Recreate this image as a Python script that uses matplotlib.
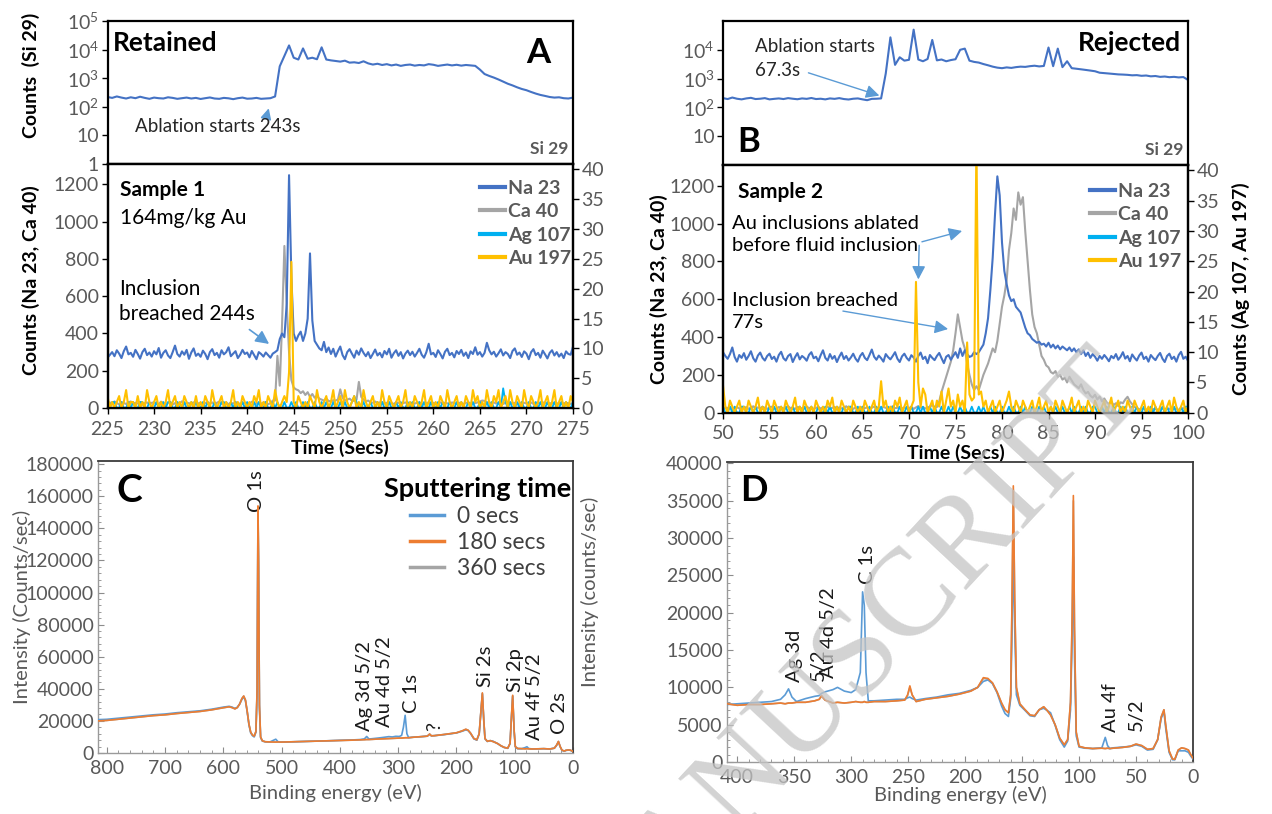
import numpy as np
import matplotlib
matplotlib.use("Agg")
import matplotlib.pyplot as plt
from matplotlib.lines import Line2D
from matplotlib.ticker import MultipleLocator, AutoMinorLocator, NullLocator

plt.rcParams['font.family'] = ['Lato', 'DejaVu Sans']
plt.rcParams['mathtext.fontset'] = 'custom'
plt.rcParams['mathtext.rm'] = 'Lato'
plt.rcParams['mathtext.it'] = 'Lato:italic'
plt.rcParams['mathtext.bf'] = 'Lato:bold'

# ---------------- LA-ICP-MS traces, sample 1 (retained) ----------------
t_si_a = np.linspace(225, 275, 101)
si29_a = [220, 205, 230, 210, 195, 215, 200, 225, 205, 190, 210, 200, 195, 215, 205, 190, 200, 210, 195, 205,
          188, 200, 212, 195, 190, 205, 198, 185, 200, 210, 192, 195, 205, 190, 195, 200,
          230, 2600, 6000, 14000, 5200, 4500, 11000, 4800, 5200, 4600, 12000, 4500, 4200, 4000, 3800, 4100, 3500, 3600, 3400, 3900,
          3300, 3000, 3200, 2900, 3100, 2800, 3000, 2700, 2900, 3000, 2750, 2900, 2800, 3100, 2950, 2700, 2850, 3000, 2800, 2950,
          2750, 2900, 2800, 2700, 2000, 1400, 1200, 1050, 900, 760,
          640, 560, 480, 420, 380, 330, 290, 260, 240, 220, 210, 215, 200, 195, 210]

t_a = np.linspace(225, 275, 201)
na23_a = [270, 285, 300, 278, 310, 292, 268, 305, 330, 288, 296, 275, 312, 290, 265, 300, 318, 284, 298, 276,
          305, 288, 322, 270, 296, 310, 282, 268, 300, 335, 290, 276, 304, 286, 312, 264, 298, 320, 280, 292,
          275, 308, 290, 262, 300, 316, 284, 296, 270, 310, 288, 300, 326, 278, 292, 305, 268, 286, 312, 290,
          298, 272, 306, 284, 262, 300, 290, 276, 298, 284, 270, 292,
          300, 310, 370, 400, 380, 560, 1250, 700, 400, 360, 390, 410, 360, 400, 480, 830, 470, 360, 340, 320,
          310, 355, 300, 325, 290, 318, 276, 305, 330, 284, 262, 300, 316, 292, 270, 308, 286, 320, 296, 278,
          300, 268, 290, 314, 282, 296, 272, 306, 288, 318, 270, 294, 310, 280, 300, 266, 292, 308, 284, 302,
          276, 296, 318, 286, 270, 300, 345, 288, 296, 274, 310, 290, 266, 302, 318, 284, 296, 272, 306, 290,
          312, 280, 298, 268, 304, 290, 326, 286, 300, 276, 296, 350, 310, 288, 302, 276, 294, 315, 282, 300,
          290, 268, 306, 320, 286, 298, 274, 304, 292, 262, 300, 316, 284, 296, 270, 308, 288, 266, 296, 310,
          282, 300, 276, 292, 268, 304, 290, 286, 330]
ca40_a = [25, 30, 20, 35, 28, 18, 32, 26, 22, 30, 35, 20, 28, 24, 32, 18, 26, 30, 22, 28,
          30, 24, 20, 34, 26, 22, 28, 32, 18, 26, 30, 24, 36, 20, 28, 26, 22, 30, 34, 24,
          28, 20, 26, 32, 24, 30, 18, 28, 34, 22, 26, 30, 20, 28, 24, 32, 26, 22, 30, 24,
          28, 20, 34, 26, 22, 30, 24, 28, 32, 20, 26, 40,
          40, 280, 120, 450, 870, 560, 300, 150, 110, 100, 95, 80, 90, 70, 85, 60, 75, 55, 65, 50,
          45, 40, 50, 38, 35, 42, 40, 45, 100, 55, 40, 45, 50, 40, 38, 45, 140, 60, 45, 35,
          40, 30, 28, 35, 25, 30, 32, 24, 28, 30, 26, 22, 30, 28, 24, 26, 30, 22, 28, 25,
          24, 28, 30, 22, 26, 25, 30, 24, 28, 22, 26, 30, 24, 28, 25, 22, 30, 26, 24, 28,
          26, 22, 28, 30, 24, 28, 26, 30, 35, 40, 38, 30, 28, 26, 30, 24, 28, 26, 22, 28,
          25, 30, 24, 28, 26, 22, 30, 28, 24, 26, 30, 22, 28, 26, 24, 30, 28, 22, 26, 24,
          28, 26, 22, 30, 24, 28, 26, 22, 25]
ag107_a = [1, 0, 1, 1, 0, 0, 1, 0, 0, 1, 0, 1, 0, 0, 1, 1, 0, 0, 1, 0,
           0, 1, 0, 0, 1, 0, 1, 1, 0, 0, 1, 0, 0, 1, 0, 0, 1, 0, 1, 0,
           0, 1, 0, 1, 0, 0, 1, 0, 0, 1, 1, 0, 0, 1, 0, 1, 0, 0, 1, 0,
           1, 0, 0, 1, 0, 1, 0, 0, 1, 0, 0, 1,
           0, 1, 0, 0, 1, 0, 0, 1, 0, 1, 0, 0, 1, 0, 1, 0, 0, 1, 0, 0,
           1, 0, 1, 0, 0, 1, 0, 0, 1, 0, 1, 0, 0, 1, 2, 1, 0, 0, 1, 0,
           0, 1, 0, 0, 1, 0, 1, 0, 0, 1, 0, 0, 1, 0, 1, 0, 0, 1, 0, 1,
           0, 0, 1, 0, 1, 0, 0, 1, 0, 0, 1, 0, 1, 0, 0, 1, 0, 0, 1, 0,
           1, 0, 0, 1, 0, 1, 0, 0, 1, 0, 0, 1, 0, 1, 0, 0, 1, 0, 3.3, 1,
           0, 1, 0, 0, 1, 0, 1, 0, 0, 1, 0, 0, 1, 0, 1, 0, 0, 1, 0, 0,
           1, 0, 0, 1, 0, 1, 0, 0, 1]
au197_a = [2, 0, 1, 0, 1, 2, 0, 1, 3, 0, 1, 1, 0, 2, 0, 1, 0, 3, 1, 0,
           1, 2, 0, 1, 0, 1, 3, 0, 1, 2, 0, 1, 0, 2, 1, 0, 1, 0, 2, 0,
           1, 0, 2, 1, 0, 3, 1, 0, 1, 2, 0, 1, 0, 1, 3, 0, 1, 0, 2, 1,
           0, 1, 0, 2, 1, 3, 0, 1, 0, 2, 1, 0,
           3, 1, 0, 1, 2, 1, 6, 24.5, 1, 0, 2, 1, 0, 1, 0, 2, 1, 0, 3, 1,
           0, 1, 2, 0, 1, 3, 0, 1, 2, 0, 3, 1, 0, 1, 2, 0, 1, 0, 3, 1,
           0, 1, 2, 0, 1, 0, 3, 1, 0, 2, 1, 0, 1, 2, 0, 1, 3, 0, 1, 0,
           2, 1, 0, 1, 3, 0, 1, 2, 0, 1, 0, 2, 1, 0, 3, 1, 0, 1, 2, 0,
           1, 0, 2, 1, 0, 3, 1, 2, 0, 1, 0, 3, 1, 0, 2, 1, 3, 0, 1, 2,
           0, 3, 1, 0, 2, 1, 0, 3, 1, 0, 2, 1, 0, 1, 3, 0, 1, 2, 0, 1,
           3, 0, 1, 2, 0, 1, 0, 2, 1]

# ---------------- LA-ICP-MS traces, sample 2 (rejected) ----------------
t_si_b = np.linspace(50, 100, 101)
si29_b = [210, 195, 220, 200, 190, 205, 215, 195, 200, 210, 190, 198, 205, 195, 210, 200, 192, 205, 198, 212,
          195, 200, 190, 205, 198, 210, 195, 188, 200, 205, 190, 178, 198, 200, 205,
          1500, 27000, 3000, 5500, 4200, 4500, 50000, 4600, 4000, 4800, 22000, 4300, 4600, 4000, 4400, 4700, 10000, 11000, 4200, 3800,
          3600, 3200, 2900, 2600, 2400, 2300, 2450, 2350, 2500, 2600, 2550, 2700, 2800, 2650, 2750, 12000, 2700, 11000, 2500, 4000,
          2300, 2200, 2100, 2000, 1900, 1800, 1600, 1550, 1500, 1450, 1400, 1380, 1350, 1300, 1320, 1250, 1280, 1200, 1230, 1150,
          1180, 1120, 1150, 1100, 1130, 900]

t_b = np.linspace(50, 100, 201)
na23_b = [320, 300, 285, 310, 345, 295, 270, 305, 290, 315, 280, 300, 325, 288, 270, 302, 318, 290, 276, 300,
          312, 284, 296, 270, 305, 322, 288, 276, 300, 310, 268, 294, 315, 282, 300, 290, 275, 306, 320, 288,
          296, 272, 304, 330, 290, 276, 310, 285, 300, 268, 296, 318, 284, 300, 276, 292, 312, 286, 270, 300,
          316, 290, 278, 305, 334, 296, 280, 302, 288, 270, 310, 294, 282, 300, 320, 286, 268, 298, 312, 290,
          276, 304, 292, 270, 300, 318, 284, 296, 262, 305, 290, 278, 300, 316, 288, 262, 296, 305, 280, 300,
          320, 290, 340, 300, 330, 310, 295, 300, 320, 310,
          320, 340, 360, 420, 500, 650, 820, 1050, 1250, 1150, 900, 750, 680, 620, 590, 600, 560, 545, 530, 490,
          450, 420, 410, 390, 380, 370, 375, 360, 365, 350, 370, 345, 360, 340, 355, 335, 350, 340, 330, 345,
          325, 340, 320, 335, 310, 330, 300, 318, 290, 310, 296, 275, 300, 285, 305, 290, 272, 300, 288, 310,
          280, 296, 320, 286, 300, 272, 308, 290, 276, 302, 318, 284, 296, 270, 305, 290, 278, 300, 316, 286,
          268, 300, 312, 284, 296, 270, 305, 322, 285, 296, 275]
ca40_b = [20, 28, 24, 32, 18, 26, 30, 22, 28, 24, 30, 20, 26, 34, 22, 28, 24, 30, 26, 20,
          28, 32, 24, 20, 30, 26, 22, 28, 34, 24, 26, 20, 30, 28, 22, 26, 32, 24, 28, 20,
          26, 30, 22, 28, 24, 32, 20, 26, 30, 24, 28, 22, 26, 34, 24, 30, 20, 28, 26, 22,
          30, 24, 28, 20, 26, 32, 22, 28, 24, 30, 26, 20, 28, 34, 24, 26, 30, 22, 28, 24,
          25, 30, 20, 28, 35, 26, 30, 22, 28, 32, 40, 30,
          30, 60, 110, 150, 190, 230, 270, 330, 420, 520, 450, 380, 340, 260, 200, 150, 120, 140, 120, 160,
          200, 230, 260, 300, 340, 320, 380, 470, 560, 620, 700, 860, 950, 1080, 1020, 1165, 1100, 1140, 960, 805,
          650, 520, 453, 420, 360, 300, 280, 250, 240, 215, 207, 220, 190, 200, 175, 185, 160, 190, 170, 150,
          140, 130, 150, 120, 102, 110, 90, 80, 95, 70, 85, 60, 75, 55, 45, 60, 40, 50, 35, 55,
          50, 70, 84, 60, 45, 30, 25, 18, 20, 22, 15, 20, 25, 18, 22, 15, 20, 24, 18, 22,
          20, 25, 18, 22, 15, 20, 24, 18, 22]
ag107_b = [1, 0, 0, 1, 0, 1, 0, 0, 1, 1, 0, 0, 1, 0, 1, 0, 0, 1, 0, 0,
           1, 0, 1, 0, 0, 1, 0, 1, 0, 0, 1, 0, 0, 1, 0, 1, 0, 0, 1, 0,
           0, 1, 0, 0, 1, 0, 1, 0, 0, 1, 0, 0, 1, 0, 1, 1, 0, 0, 1, 0,
           1, 0, 0, 1, 0, 0, 1, 0, 1, 0, 0, 1, 0, 1, 0, 0, 1, 0, 0, 1,
           0, 1, 0, 0, 1, 0, 1, 0, 0, 1, 0, 1, 0, 0, 1, 0, 0, 1, 0, 1,
           0, 0, 1, 0, 1, 0, 0, 1, 0, 0, 1, 0, 1, 0, 0, 1, 0, 1, 0, 0,
           1, 0, 0, 1, 0, 1, 0, 0, 1, 0, 1, 0, 0, 1, 0, 0, 1, 0, 1, 0,
           0, 1, 0, 1, 0, 0, 1, 0, 0, 1, 0, 1, 0, 0, 1, 0, 1, 0, 0, 1,
           1, 0, 0, 1, 0, 1, 0, 0, 1, 0, 0, 1, 0, 1, 0, 0, 1, 0, 1, 0,
           0, 1, 0, 0, 1, 0, 1, 0, 0, 1, 0, 1, 0, 0, 1, 0, 0, 1, 0, 1,
           1]
au197_b = [4.5, 1, 0, 2, 1, 0, 1, 2, 0, 1, 0, 2, 1, 0, 1, 2.5, 0, 1, 0, 2,
           1, 0, 2, 1, 0, 1, 0, 2, 1, 0, 1, 2.5, 0, 1, 0, 2, 1, 0, 1, 0,
           2, 1, 0, 1, 0, 2, 1, 2.5, 0, 1, 0, 2, 1, 0, 1, 0, 2, 1, 0, 1,
           0, 2, 1, 0, 1, 2, 0, 1, 5.2, 1, 2, 0, 1, 0, 2, 1, 2.5, 0, 1, 2,
           0, 1, 2, 21.6, 5, 1, 4, 3, 0, 1, 2, 0, 2, 1, 3.5, 0, 2, 4, 1, 2,
           0, 3, 1, 2, 0, 11.6, 3, 2, 2.5, 45, 3, 3.5, 1, 2, 0, 1, 2, 0, 1, 2,
           0, 1, 2, 3.5, 1, 0, 2, 1, 0, 2, 1, 0, 1, 2, 0, 1, 2.5, 0, 1, 2,
           0, 1, 0, 2, 1, 0, 2, 1, 0, 1, 2.5, 0, 1, 2, 0, 1, 0, 2, 1, 0,
           2, 1, 0, 1, 2, 0, 1, 2.5, 0, 1, 2, 0, 1, 0, 2, 1, 0, 2, 1, 0,
           1, 2, 0, 1, 0, 2, 1, 0, 1, 2, 0, 1, 2, 0, 2.5, 1, 0, 1, 2, 0, 1]

# ---------------- XPS survey, sample 1 ----------------
be_c = [815, 800, 760, 720, 700, 680, 640, 620, 600, 590,
        585, 580, 576, 572, 568, 565, 562, 559, 556, 553,
        550, 547, 544, 542, 540.5, 539.5, 538, 536, 533, 528,
        520, 510, 506, 502, 490, 460, 430, 400, 380, 365,
        358, 354, 350, 345, 335, 328, 322, 316, 310, 304,
        298, 294, 291, 288, 285, 282, 275, 260, 250, 246,
        243, 238, 220, 200, 190, 184, 180, 176, 170, 165,
        161, 158, 155.5, 153, 151, 147, 142, 137, 133, 129,
        124, 118, 112, 108, 106, 103.5, 101, 99, 95, 88,
        82, 79, 76, 70, 60, 50, 40, 32, 28, 25,
        22, 19, 15, 12, 8, 5, 2, 0]
c_0s = [20800, 21000, 22400, 23800, 24300, 25100, 26300, 27300, 28600, 29100,
        28600, 27800, 28500, 30500, 33500, 35000, 32500, 25500, 17500, 12500,
        10800, 10000, 13000, 38000, 150000, 115000, 28000, 9600, 7400, 7000,
        6900, 8600, 7000, 6800, 6900, 7200, 7500, 7900, 8100, 8400,
        8800, 10300, 8700, 8900, 9300, 9600, 9900, 10200, 10000, 10400,
        10300, 11000, 16000, 23500, 12000, 9600, 9800, 10200, 10500, 11600,
        10700, 10800, 11500, 12500, 13600, 14400, 14000, 12300, 8800, 8000,
        11800, 25500, 37000, 19500, 8800, 7200, 7700, 7300, 6500, 5800,
        4500, 3400, 2900, 5800, 19500, 35500, 13500, 3900, 2700, 2700,
        3400, 3900, 2800, 2500, 2600, 2700, 2500, 3000, 4800, 7000,
        3900, 1700, 1100, 1600, 1800, 1700, 1300, 800]
c_180s = [20000, 20300, 21800, 23300, 23800, 24600, 25900, 26900, 28200, 28800,
          28300, 27500, 28300, 30500, 34000, 35500, 33000, 26000, 18000, 13000,
          11200, 10500, 13500, 40000, 154000, 120000, 30000, 10000, 7600, 7000,
          6900, 6800, 6900, 6800, 6900, 7200, 7500, 7800, 8000, 8200,
          8300, 8400, 8400, 8500, 8700, 8800, 8900, 9000, 9100, 9200,
          9300, 9300, 9400, 9500, 9500, 9500, 9800, 10200, 10500, 11800,
          10700, 10800, 11600, 12600, 13800, 14800, 14200, 12500, 9000, 8200,
          12000, 26000, 37500, 20000, 9000, 7300, 7700, 7100, 6500, 5800,
          4600, 3500, 3000, 6000, 20000, 36000, 14000, 4000, 2800, 2700,
          2600, 2700, 2600, 2500, 2600, 2700, 2500, 3000, 5000, 7200,
          4000, 1800, 1200, 1700, 1900, 1800, 1400, 900]
c_360s = [20100, 20300, 21800, 23300, 23800, 24600, 25900, 26900, 28200, 28800,
          28300, 27500, 28300, 30500, 34000, 35500, 33000, 26000, 18000, 13000,
          11200, 10500, 13500, 40000, 153000, 120000, 30000, 10000, 7600, 7000,
          6900, 6800, 6900, 6800, 6900, 7200, 7500, 7800, 8000, 8200,
          8300, 8400, 8400, 8500, 8700, 8800, 8900, 9000, 9100, 9200,
          9300, 9300, 9400, 9500, 9500, 9500, 9800, 10200, 10500, 11800,
          10700, 10800, 11600, 12600, 13800, 14800, 14200, 12500, 9000, 8200,
          12000, 26000, 37000, 20000, 9000, 7300, 7700, 7100, 6500, 5800,
          4600, 3500, 3000, 6000, 20000, 35500, 14000, 4000, 2800, 2700,
          2600, 2700, 2600, 2500, 2600, 2700, 2500, 3000, 5000, 7200,
          4000, 1800, 1200, 1700, 1900, 1800, 1400, 900]

# ---------------- XPS survey, sample 2 ----------------
be_d = [409, 400, 390, 380, 370, 362, 358, 355, 352, 348,
        340, 332, 328, 326, 323, 316, 312, 306, 300, 296,
        292, 290, 288.5, 287, 285, 280, 270, 260, 253, 250.5,
        248.5, 246.5, 243, 235, 225, 215, 205, 195, 189, 184,
        180, 176, 172, 168, 165, 162, 160, 159, 157.7, 156.5,
        155, 152, 148, 143, 139, 135, 131, 128, 125, 121,
        117, 113, 110, 107.5, 106, 105, 104, 102.5, 100, 95,
        88, 80, 77, 75, 73, 70, 62, 55, 50, 45,
        40, 35, 31, 28, 25.5, 24, 21, 18, 16, 13,
        10, 7, 4, 2, 0]
d_0s = [7700, 7800, 7900, 8000, 8100, 8400, 9000, 9800, 8700, 8100,
        8500, 8800, 8900, 9200, 9400, 9700, 10000, 9500, 9300, 9700,
        12000, 22800, 21000, 12000, 8200, 8200, 8300, 8400, 8400, 8600,
        8700, 8500, 8300, 8500, 8700, 9000, 9200, 9600, 10000, 10800,
        11000, 10500, 9300, 7500, 6500, 6100, 8500, 16000, 28000, 18000,
        9000, 7600, 7000, 6200, 6100, 7000, 7200, 6900, 6600, 4900,
        3000, 2000, 2800, 7000, 17000, 27500, 14000, 3500, 2000, 1850,
        1800, 1900, 3300, 2200, 1800, 1900, 2000, 2100, 2300, 2100,
        1600, 1700, 3000, 5800, 6800, 4600, 1300, 300, 300, 1500,
        1500, 1500, 1300, 800, 400]
d_180s = [7800, 7600, 7700, 7700, 7800, 7900, 7800, 7900, 7900, 8000,
          8000, 8200, 8400, 8900, 8300, 7900, 8000, 7900, 8000, 8100,
          8000, 8000, 8100, 8000, 8000, 8100, 8100, 8200, 8300, 9000,
          10200, 9000, 8100, 8400, 8600, 8800, 9100, 9500, 10000, 11300,
          11200, 10600, 9400, 7900, 7000, 6600, 9000, 20000, 37000, 22000,
          10000, 7800, 7100, 6300, 6200, 7000, 7400, 6900, 6300, 5000,
          3200, 2300, 3000, 8000, 20000, 35700, 18000, 4000, 2100, 1900,
          1800, 1850, 1800, 1850, 1800, 1850, 1950, 2100, 2400, 2200,
          1700, 1800, 3000, 6000, 7000, 5000, 1500, 400, 350, 1600,
          1900, 1800, 1600, 1000, 500]
d_360s = [7800, 7600, 7700, 7700, 7800, 7900, 7800, 7900, 7900, 8000,
          8000, 8200, 8400, 8800, 8300, 7900, 8000, 7900, 8000, 8100,
          8000, 8000, 8100, 8000, 8000, 8100, 8100, 8200, 8300, 8900,
          10000, 9000, 8100, 8400, 8600, 8800, 9100, 9500, 10000, 11200,
          11100, 10600, 9400, 7900, 7000, 6600, 9000, 19500, 36500, 21500,
          10000, 7800, 7100, 6300, 6200, 7000, 7400, 6900, 6300, 5000,
          3200, 2300, 3000, 8000, 19500, 35000, 17500, 4000, 2100, 1900,
          1800, 1850, 1800, 1850, 1800, 1850, 1950, 2100, 2400, 2200,
          1700, 1800, 3000, 6000, 7000, 5000, 1500, 400, 350, 1600,
          1900, 1800, 1600, 1000, 500]

isotopes = ['Na 23', 'Ca 40', 'Ag 107', 'Au 197']
sputter_times = ['0 secs', '180 secs', '360 secs']

NA, CA, AG, AU = '#4472C4', '#A5A5A5', '#00B0F0', '#FFC000'
ARROW = '#5B9BD5'
TICK = '#595959'
XPS = ['#5B9BD5', '#ED7D31', '#A5A5A5']

W, H = 1272, 814
fig = plt.figure(figsize=(W / 100, H / 100), dpi=100)


def box(l, t, r, b):
    return [l / W, 1 - b / H, (r - l) / W, (b - t) / H]


def frame(ax, lw=1.6):
    for s in ax.spines.values():
        s.set_linewidth(lw)
        s.set_color('black')


def log_labels(ax, ticks):
    names = {1: '1', 10: '10', 100: '$10^2$', 1000: '$10^3$', 10000: '$10^4$', 100000: '$10^5$'}
    ax.set_yscale('log')
    ax.set_ylim(1, 1e5)
    ax.set_yticks(ticks)
    ax.set_yticklabels([names[int(v)] for v in ticks])
    ax.yaxis.set_minor_locator(NullLocator())
    ax.tick_params(axis='y', labelsize=14, labelcolor=TICK, length=4, width=1, pad=2)
    ax.tick_params(axis='x', bottom=False, labelbottom=False)


def lower_panel(ax, ax2, t, na, ca, ag, au, xlim, step):
    ax.plot(t, na, color=NA, lw=1.5, zorder=3)
    ax.plot(t, ca, color=CA, lw=1.5, zorder=2)
    ax2.plot(t, ag, color=AG, lw=1.3)
    ax2.plot(t, au, color=AU, lw=1.5)
    ax.set_xlim(*xlim)
    ax.set_ylim(0, 1310)
    ax2.set_ylim(0, 40.9)
    ax.xaxis.set_major_locator(MultipleLocator(step))
    ax.yaxis.set_major_locator(MultipleLocator(200))
    ax2.yaxis.set_major_locator(MultipleLocator(5))
    ax.tick_params(labelsize=14, labelcolor=TICK, length=4, width=1, pad=2)
    ax.tick_params(axis='x', pad=5)
    ax2.tick_params(labelsize=14, labelcolor=TICK, length=4, width=1, pad=2)
    ax.set_xlabel('Time (Secs)', fontsize=14, fontweight='bold', labelpad=1)
    frame(ax)
    frame(ax2)
    handles = [Line2D([], [], color=c, lw=3) for c in (NA, CA, AG, AU)]
    return handles


legend_style = dict(loc='upper right', frameon=False, prop={'weight': 'bold', 'size': 14},
                    labelcolor=TICK, handlelength=1.3, handletextpad=0.15, labelspacing=0.33,
                    borderaxespad=0, borderpad=0)

# ---- Panel A ----
axA_si = fig.add_axes(box(107.5, 21, 573, 164))
axA_si.plot(t_si_a, si29_a, color=NA, lw=1.5)
axA_si.set_xlim(225, 275)
log_labels(axA_si, [1, 10, 100, 1000, 10000, 100000])
frame(axA_si)
axA_si.text(0.012, 0.93, 'Retained', transform=axA_si.transAxes, fontsize=19, fontweight='bold', va='top')
axA_si.text(0.925, 0.89, 'A', transform=axA_si.transAxes, fontsize=25, fontweight='bold', va='top', ha='center')
axA_si.text(0.99, 0.05, 'Si 29', transform=axA_si.transAxes, fontsize=12.5, fontweight='bold', color=TICK, ha='right', va='bottom')
axA_si.annotate('', xy=(242.4, 110), xytext=(242.1, 48),
                arrowprops=dict(arrowstyle='-|>', color=ARROW, lw=1.2, mutation_scale=16))
axA_si.text(228, 21, 'Ablation starts 243s', fontsize=13.5, color='#262626', va='center')

axA = fig.add_axes(box(107.5, 164, 573, 408))
axA2 = axA.twinx()
hA = lower_panel(axA, axA2, t_a, na23_a, ca40_a, ag107_a, au197_a, (225, 275), 5)
axA.text(0.026, 0.935, 'Sample 1', transform=axA.transAxes, fontsize=15, fontweight='bold', va='top')
axA.text(0.026, 0.82, '164mg/kg Au', transform=axA.transAxes, fontsize=15, va='top')
axA.text(226.2, 570, 'Inclusion\nbreached 244s', fontsize=15, va='center', linespacing=1.3)
axA.annotate('', xy=(242.6, 335), xytext=(240.0, 430),
             arrowprops=dict(arrowstyle='-|>', color=ARROW, lw=1.2, mutation_scale=20))
axA2.legend(hA, isotopes, bbox_to_anchor=(0.996, 0.935), **legend_style)

# ---- Panel B ----
axB_si = fig.add_axes(box(723, 21, 1188, 165))
axB_si.plot(t_si_b, si29_b, color=NA, lw=1.5)
axB_si.set_xlim(50, 100)
log_labels(axB_si, [10, 100, 1000, 10000])
frame(axB_si)
axB_si.text(0.985, 0.93, 'Rejected', transform=axB_si.transAxes, fontsize=19, fontweight='bold', va='top', ha='right')
axB_si.text(0.055, 0.05, 'B', transform=axB_si.transAxes, fontsize=25, fontweight='bold', va='bottom', ha='center')
axB_si.text(0.99, 0.05, 'Si 29', transform=axB_si.transAxes, fontsize=12.5, fontweight='bold', color=TICK, ha='right', va='bottom')
axB_si.text(53.4, 4800, 'Ablation starts\n67.3s', fontsize=13.5, color='#262626', va='center', linespacing=1.5)
axB_si.annotate('', xy=(67.1, 240), xytext=(58.9, 1700),
                arrowprops=dict(arrowstyle='-|>', color=ARROW, lw=1.0, mutation_scale=20))

axB = fig.add_axes(box(723, 165, 1188, 412.7))
axB2 = axB.twinx()
hB = lower_panel(axB, axB2, t_b, na23_b, ca40_b, ag107_b, au197_b, (50, 100), 5)
axB.set_ylabel('Counts (Na 23, Ca 40)', fontsize=14, fontweight='bold', labelpad=1)
axB2.set_ylabel('Counts (Ag 107, Au 197)', fontsize=14, fontweight='bold', labelpad=9)
axB.text(0.032, 0.93, 'Sample 2', transform=axB.transAxes, fontsize=15, fontweight='bold', va='top')
axB.text(51.0, 942, 'Au inclusions ablated\nbefore fluid inclusion', fontsize=14.5, va='center', linespacing=1.3)
axB.text(51.0, 535, 'Inclusion breached\n77s', fontsize=14.5, va='center', linespacing=1.4)
axB.annotate('', xy=(71.0, 690), xytext=(71.1, 900),
             arrowprops=dict(arrowstyle='-|>', color=ARROW, lw=1.0, mutation_scale=20))
axB.annotate('', xy=(76.0, 965), xytext=(71.1, 900),
             arrowprops=dict(arrowstyle='-|>', color=ARROW, lw=1.0, mutation_scale=20))
axB.annotate('', xy=(74.5, 440), xytext=(62.6, 540),
             arrowprops=dict(arrowstyle='-|>', color=ARROW, lw=1.0, mutation_scale=20))
axB2.legend(hB, isotopes, bbox_to_anchor=(0.986, 0.928), **legend_style)

# shared left labels for panel A
fig.text(31 / W, 1 - 75 / H, 'Counts  (Si 29)', rotation=90, fontsize=14, fontweight='bold', ha='center', va='center')
fig.text(31 / W, 1 - 280 / H, 'Counts (Na 23, Ca 40)', rotation=90, fontsize=14, fontweight='bold', ha='center', va='center')


def xps_axes(ax, be, series, xlim, ylim, ystep, xpad):
    for vals, c, z in zip(series, XPS, (3, 4, 2)):
        ax.plot(be, vals, color=c, lw=1.2, zorder=z)
    ax.set_xlim(*xlim)
    ax.set_ylim(*ylim)
    ax.yaxis.set_major_locator(MultipleLocator(ystep))
    ax.xaxis.set_minor_locator(AutoMinorLocator(5))
    ax.yaxis.set_minor_locator(AutoMinorLocator(5))
    ax.tick_params(which='both', direction='in', color='#8c8c8c', labelsize=14, labelcolor=TICK, pad=3)
    ax.tick_params(axis='x', pad=5)
    ax.tick_params(which='major', length=4)
    ax.tick_params(which='minor', length=2)
    ax.set_xlabel('Binding energy (eV)', fontsize=14.5, color=TICK, labelpad=xpad)
    for side in ('left', 'bottom'):
        ax.spines[side].set_color('#9a9a9a')
        ax.spines[side].set_linewidth(1.0)
    for side in ('top', 'right'):
        ax.spines[side].set_color('#3a3a3a')
        ax.spines[side].set_linewidth(1.3)


# ---- Panel C ----
axC = fig.add_axes(box(98, 461, 573, 753))
xps_axes(axC, be_c, (c_0s, c_180s, c_360s), (815, 0), (0, 182000), 20000, 5)
axC.xaxis.set_major_locator(MultipleLocator(100))
axC.set_ylabel('Intensity (Counts/sec)', fontsize=14.5, color=TICK, labelpad=-4)
axC.text(0.065, 0.96, 'C', transform=axC.transAxes, fontsize=28, fontweight='bold', va='top', ha='center')
lab = dict(rotation=90, ha='center', va='bottom', fontsize=14.5, color='#1a1a1a')
axC.text(543, 150000, 'O 1s', **lab)
axC.text(357, 14000, 'Ag 3d 5/2', **lab)
axC.text(323, 16000, 'Au 4d 5/2', **lab)
axC.text(277, 25000, 'C 1s', **lab)
axC.text(237, 14000, '?', **lab)
axC.text(150, 41000, 'Si 2s', **lab)
axC.text(99, 38000, 'Si 2p', **lab)
axC.text(66, 7800, 'Au 4f 5/2', **lab)
axC.text(23, 12000, 'O 2s', **lab)
hC = [Line2D([], [], color=c, lw=2.5) for c in XPS]
legC = axC.legend(hC, sputter_times, title='Sputtering time', loc='upper right', bbox_to_anchor=(0.996, 0.945),
                  frameon=False, fontsize=16.5, labelcolor='#404040', handlelength=1.5, handletextpad=0.55,
                  labelspacing=0.22, borderaxespad=0, borderpad=0)
legC.get_title().set_fontweight('bold')
legC.get_title().set_fontsize(19.5)
fig.text(590 / W, 1 - 592 / H, 'Intensity (counts/sec)', rotation=90, fontsize=14.5, color=TICK, ha='center', va='center')

# ---- Panel D ----
axD = fig.add_axes(box(727, 462, 1193, 762))
xps_axes(axD, be_d, (d_0s, d_180s, d_360s), (409, 0), (0, 40200), 5000, 0)
axD.xaxis.set_major_locator(MultipleLocator(50))
axD.text(0.058, 0.96, 'D', transform=axD.transAxes, fontsize=26, fontweight='bold', va='top', ha='center')
labd = dict(rotation=90, ha='center', va='bottom', fontsize=14.5, color='#1a1a1a')
axD.text(350, 10700, 'Ag 3d', **labd)
axD.text(329, 10900, '5/2', **labd)
axD.text(320, 11300, 'Au 4d 5/2', **labd)
axD.text(286, 23800, 'C 1s', **labd)
axD.text(72, 4000, 'Au 4f', **labd)
axD.text(50, 4200, '5/2', **labd)

# watermark
fig.text(1149 / W, 1 - 395 / H, 'ACCEPTED MANUSCRIPT', rotation=47, rotation_mode='anchor',
         ha='right', va='baseline', fontsize=90, family='Liberation Serif', color='#c4c4c4',
         alpha=0.75, zorder=10)

fig.savefig('out.png', dpi=100)
